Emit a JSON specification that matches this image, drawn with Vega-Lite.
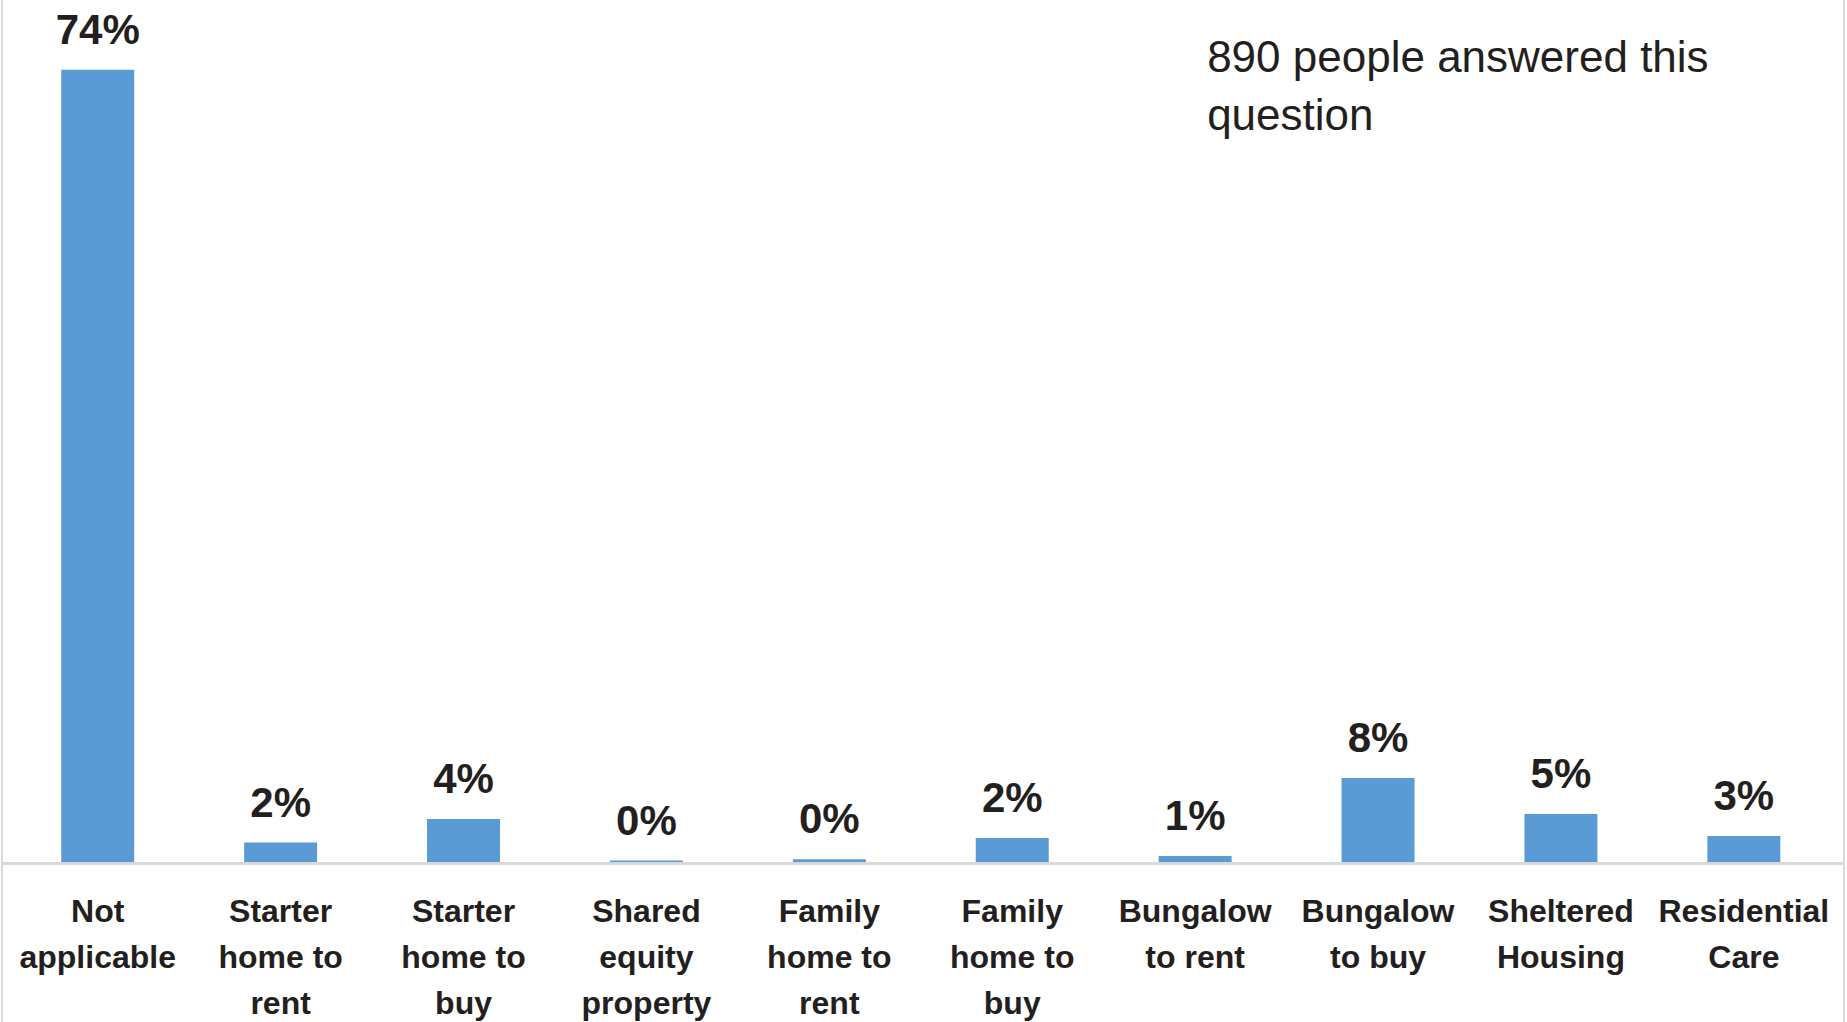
{
  "$schema": "https://vega.github.io/schema/vega-lite/v6.json",
  "width": 1842,
  "height": 1030,
  "autosize": {"type": "none"},
  "padding": {"left": 2, "top": -4, "right": 3, "bottom": 0},
  "background": "#ffffff",
  "config": {"view": {"stroke": "#d9d9d9", "strokeWidth": 2}},
  "datasets": {
    "bars": [
      {"category": "Not applicable", "label": "Not|applicable", "value": 0.7435},
      {"category": "Starter home to rent", "label": "Starter|home to|rent", "value": 0.0194},
      {"category": "Starter home to buy", "label": "Starter|home to|buy", "value": 0.0415},
      {"category": "Shared equity property", "label": "Shared|equity|property", "value": 0.0025},
      {"category": "Family home to rent", "label": "Family|home to|rent", "value": 0.0037},
      {"category": "Family home to buy", "label": "Family|home to|buy", "value": 0.0237},
      {"category": "Bungalow to rent", "label": "Bungalow|to rent", "value": 0.0068},
      {"category": "Bungalow to buy", "label": "Bungalow|to buy", "value": 0.0799},
      {"category": "Sheltered Housing", "label": "Sheltered|Housing", "value": 0.0462},
      {"category": "Residential Care", "label": "Residential|Care", "value": 0.0255}
    ],
    "note": [
      {"note": "890 people answered this|question"}
    ]
  },
  "layer": [
    {
      "data": {"name": "bars"},
      "mark": {"type": "bar", "color": "#5B9BD5"},
      "encoding": {
        "x": {
          "field": "category", "type": "nominal", "sort": null, "axis": null,
          "scale": {
            "domain": ["Not applicable", "Starter home to rent", "Starter home to buy", "Shared equity property", "Family home to rent", "Family home to buy", "Bungalow to rent", "Bungalow to buy", "Sheltered Housing", "Residential Care"],
            "paddingInner": 0.601, "paddingOuter": 0.336, "align": 0.482
          }
        },
        "y": {
          "field": "value", "type": "quantitative", "axis": null,
          "scale": {"domain": [-0.1525, 0.8125], "nice": false, "zero": false}
        }
      }
    },
    {
      "data": {"name": "bars"},
      "mark": {"type": "rule", "color": "#d9d9d9", "strokeWidth": 2},
      "encoding": {
        "y": {"datum": 0, "type": "quantitative"}
      }
    },
    {
      "data": {"name": "bars"},
      "mark": {"type": "text", "font": "Liberation Sans", "fontWeight": "bold", "fontSize": 42, "color": "#231f20", "baseline": "alphabetic", "align": "center", "dy": -26},
      "encoding": {
        "x": {"field": "category", "type": "nominal", "sort": null},
        "y": {"field": "value", "type": "quantitative"},
        "text": {"field": "value", "type": "quantitative", "format": ".0%"}
      }
    },
    {
      "data": {"name": "bars"},
      "mark": {"type": "text", "font": "Liberation Sans", "fontWeight": "bold", "fontSize": 32, "color": "#231f20", "baseline": "alphabetic", "align": "center", "lineBreak": "|", "lineHeight": 46},
      "encoding": {
        "x": {"field": "category", "type": "nominal", "sort": null},
        "y": {"datum": -0.0546, "type": "quantitative"},
        "text": {"field": "label", "type": "nominal"}
      }
    },
    {
      "data": {"name": "note"},
      "mark": {"type": "text", "font": "Liberation Sans", "fontSize": 44, "color": "#231f20", "baseline": "alphabetic", "align": "left", "lineBreak": "|", "lineHeight": 58, "dx": 12},
      "encoding": {
        "x": {"datum": "Bungalow to rent", "type": "nominal"},
        "y": {"datum": 0.7411, "type": "quantitative"},
        "text": {"field": "note", "type": "nominal"}
      }
    }
  ]
}
